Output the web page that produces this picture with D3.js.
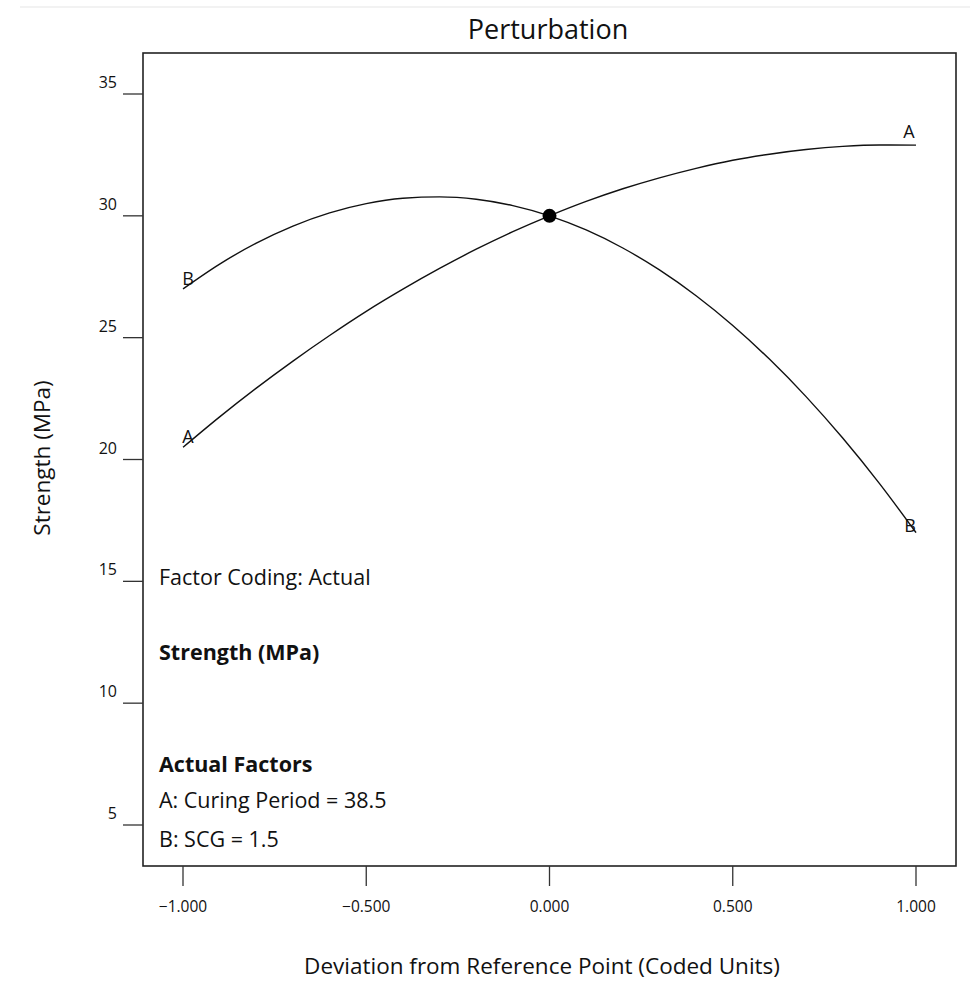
<!DOCTYPE html>
<html><head><meta charset="utf-8">
<script src="https://cdn.jsdelivr.net/npm/d3@7/dist/d3.min.js"></script>
<style>body{margin:0;background:#fff}text{font-family:"Open Sans","Noto Sans",sans-serif;fill:#111}</style>
</head><body><svg id="c" width="970" height="987"></svg>
<script>
const xValues = [-1.0,-0.9,-0.8,-0.7,-0.6,-0.5,-0.4,-0.3,-0.2,-0.1,0.0,0.1,0.2,0.3,0.4,0.5,0.6,0.7,0.8,0.9,1.0];
const seriesA = [20.5,21.75,22.93,24.04,25.09,26.08,26.99,27.84,28.63,29.35,30.0,30.59,31.11,31.56,31.95,32.28,32.53,32.72,32.85,32.91,32.9];
const seriesB = [27.0,28.02,28.88,29.58,30.12,30.5,30.72,30.78,30.68,30.42,30.0,29.42,28.68,27.78,26.72,25.5,24.12,22.58,20.88,19.02,17.0];
const refPoint = {x:0, y:30};
const yTicks = [5,10,15,20,25,30,35];
const xTicks = [-1,-0.5,0,0.5,1];
const infoLines = [
  {t:"Factor Coding: Actual", b:false},
  {t:"Strength (MPa)", b:true},
  {t:"Actual Factors", b:true},
  {t:"A: Curing Period = 38.5", b:false},
  {t:"B: SCG = 1.5", b:false}
];

const svg = d3.select("#c");
const L=143, R=956, T=53, B=866;
const x = d3.scaleLinear().domain([-1,1]).range([183,916]);
const y = d3.scaleLinear().domain([5,35]).range([825,94]);

svg.append("line").attr("x1",20).attr("x2",970).attr("y1",7).attr("y2",7).attr("stroke","#f2f2f2").attr("stroke-width",2);

svg.append("rect").attr("x",L).attr("y",T).attr("width",R-L).attr("height",B-T)
  .attr("fill","none").attr("stroke","#222").attr("stroke-width",1.6);

// y axis
yTicks.forEach(v=>{
  svg.append("line").attr("x1",123).attr("x2",L).attr("y1",y(v)).attr("y2",y(v)).attr("stroke","#333").attr("stroke-width",1.3);
  svg.append("text").attr("x",117).attr("y",y(v)-6).attr("text-anchor","end").attr("font-size",16).text(v);
});
// x axis
const fmt = d3.format(".3f");
xTicks.forEach(v=>{
  svg.append("line").attr("x1",x(v)).attr("x2",x(v)).attr("y1",B).attr("y2",886).attr("stroke","#333").attr("stroke-width",1.3);
  svg.append("text").attr("x",x(v)).attr("y",912).attr("text-anchor","middle").attr("font-size",15.5).text(fmt(v));
});

svg.append("text").attr("x",548).attr("y",39).attr("text-anchor","middle").attr("font-size",27).text("Perturbation");
svg.append("text").attr("x",542).attr("y",974).attr("text-anchor","middle").attr("font-size",22.5).text("Deviation from Reference Point (Coded Units)");
svg.append("text").attr("transform","translate(50,458) rotate(-90)").attr("text-anchor","middle").attr("font-size",22.5).text("Strength (MPa)");

const line = d3.line().x((d,i)=>x(xValues[i])).y(d=>y(d)).curve(d3.curveMonotoneX);
[seriesA,seriesB].forEach(s=>{
  svg.append("path").attr("d",line(s)).attr("fill","none").attr("stroke","#111").attr("stroke-width",1.4);
});
svg.append("circle").attr("cx",x(refPoint.x)).attr("cy",y(refPoint.y)).attr("r",7).attr("fill","#000");

// curve labels
const lab = (t,xv,yv,dx,dy)=>svg.append("text").attr("x",x(xv)+dx).attr("y",y(yv)+dy).attr("text-anchor","middle").attr("font-size",18).text(t);
lab("A",1,seriesA[seriesA.length-1],-7,-7);
lab("B",-1,seriesB[0],5,-4);
lab("A",-1,seriesA[0],5,-4);
lab("B",1,seriesB[seriesB.length-1],-6,-1);

const infoY = [585,660,772,808,847];
infoLines.forEach((d,i)=>{
  svg.append("text").attr("x",159).attr("y",infoY[i]).attr("font-size",21.5).attr("font-weight",d.b?"bold":"normal").text(d.t);
});
</script></body></html>
